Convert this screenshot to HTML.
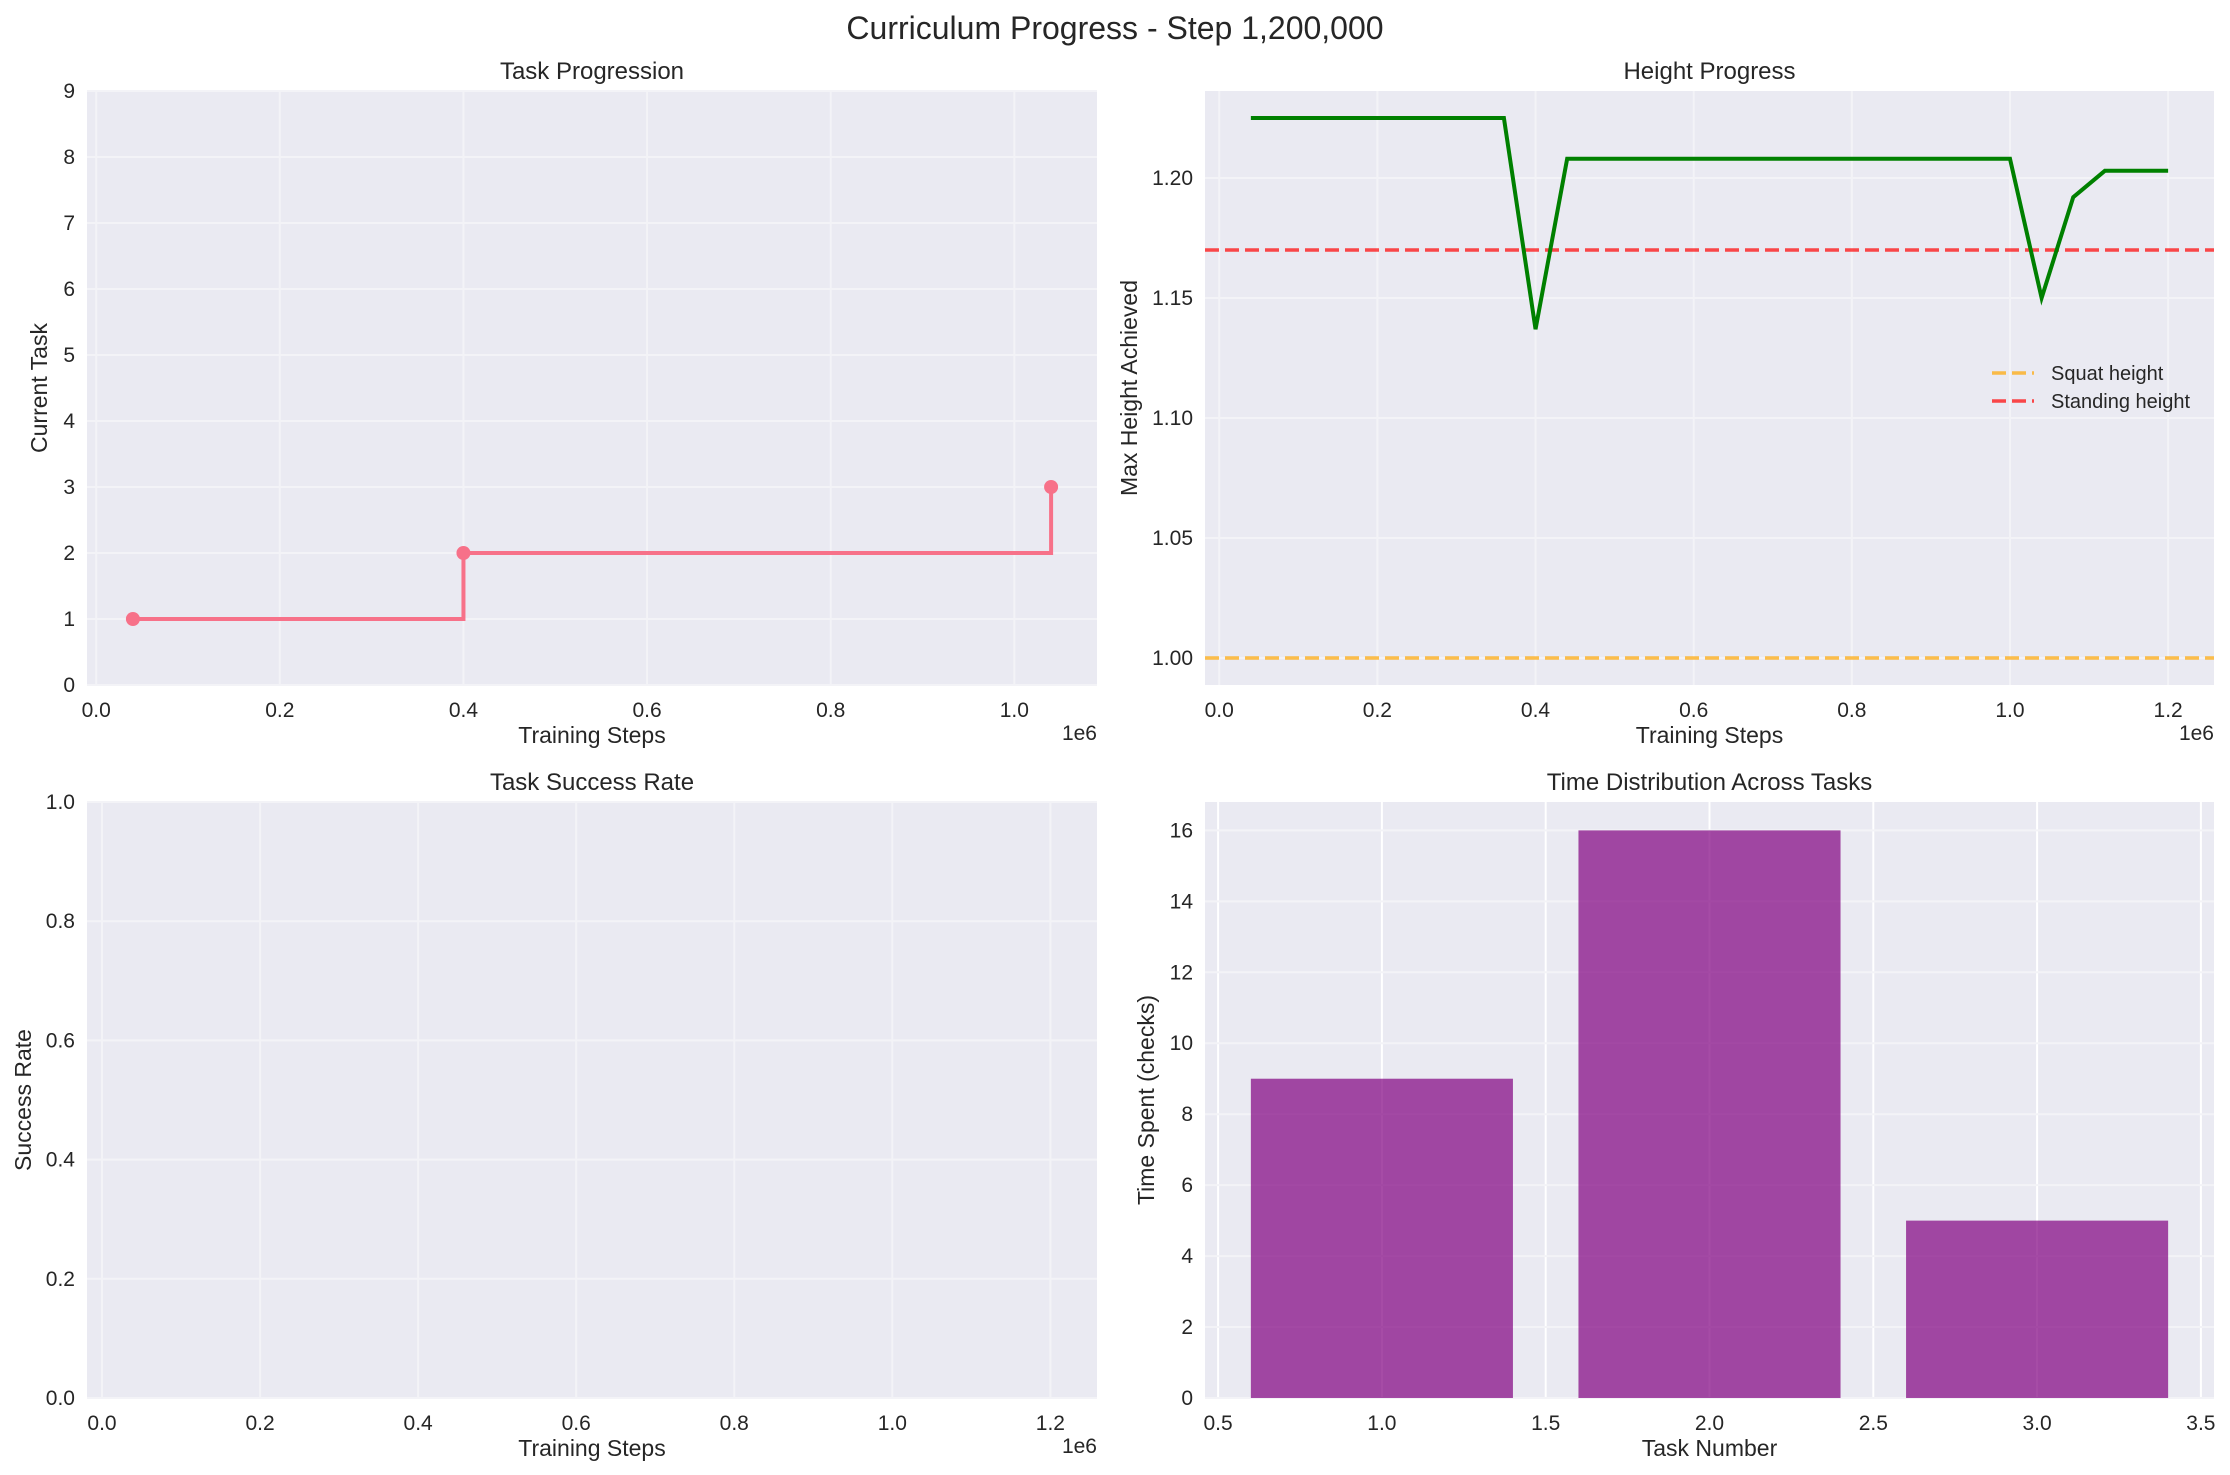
<!DOCTYPE html>
<html><head><meta charset="utf-8">
<style>
html,body{margin:0;padding:0;background:#fff;}
svg{display:block;font-family:"Liberation Sans",Arial,sans-serif;}
</style></head>
<body>
<svg id="fig" width="2230" height="1475" viewBox="0 0 2230 1475">
<rect width="2230" height="1475" fill="#ffffff"/>
<text x="1115" y="39" font-size="32" text-anchor="middle" fill="#262626">Curriculum Progress - Step 1,200,000</text>
</svg>
<script>
const taskSteps=[40000,400000,1040000];
const taskValues=[1,2,3];
const heightSteps=[40000,80000,120000,160000,200000,240000,280000,320000,360000,400000,440000,480000,520000,560000,600000,640000,680000,720000,760000,800000,840000,880000,920000,960000,1000000,1040000,1080000,1120000,1160000,1200000];
const heightValues=[1.225,1.225,1.225,1.225,1.225,1.225,1.225,1.225,1.225,1.137,1.208,1.208,1.208,1.208,1.208,1.208,1.208,1.208,1.208,1.208,1.208,1.208,1.208,1.208,1.208,1.150,1.192,1.203,1.203,1.203];
const squatHeight=1.0;
const standingHeight=1.17;
const barTasks=[1,2,3];
const barValues=[9,16,5];
const stepTicks=[0,0.2,0.4,0.6,0.8,1.0,1.2];
const stepTickLabels=["0.0","0.2","0.4","0.6","0.8","1.0","1.2"];
const taskTicks=[0,1,2,3,4,5,6,7,8,9];
const heightTicks=[1.00,1.05,1.10,1.15,1.20];
const heightTickLabels=["1.00","1.05","1.10","1.15","1.20"];
const rateTicks=[0,0.2,0.4,0.6,0.8,1.0];
const rateTickLabels=["0.0","0.2","0.4","0.6","0.8","1.0"];
const timeTicks=[0,2,4,6,8,10,12,14,16];
const taskNumTicks=[0.5,1.0,1.5,2.0,2.5,3.0,3.5];
const taskNumTickLabels=["0.5","1.0","1.5","2.0","2.5","3.0","3.5"];

const NS="http://www.w3.org/2000/svg";
const svg=document.getElementById('fig');
function mk(tag,attrs,parent){const e=document.createElementNS(NS,tag);for(const k in attrs)e.setAttribute(k,attrs[k]);(parent||svg).appendChild(e);return e;}
function scale(d0,d1,p0,p1){return v=>p0+(v-d0)/(d1-d0)*(p1-p0);}

function panel(o){
  const g=mk('g',{});
  
  
  const bg=mk('rect',{x:o.x0,y:o.y0,width:o.x1-o.x0,height:o.y1-o.y0,fill:'#eaeaf2'},g);
  
  
  const sx=scale(o.xd[0],o.xd[1],o.x0,o.x1), sy=scale(o.yd[0],o.yd[1],o.y1,o.y0);
  o.xt.forEach((t,i)=>{
    const X=sx(t);
    const gl=mk('line',{x1:X,x2:X,y1:o.y0,y2:o.y1,stroke:o.vgrid||'#f3f3f7','stroke-width':2},g);
    
    
    const tl=mk('text',{x:X,y:o.y1+32,'font-size':21,'text-anchor':'middle',fill:'#262626'},g);
    
    
    tl.textContent=o.xl[i];
  });
  o.yt.forEach((t,i)=>{
    const Y=sy(t);
    const gl=mk('line',{x1:o.x0,x2:o.x1,y1:Y,y2:Y,stroke:'#f3f3f7','stroke-width':2},g);
    
    
    const tl=mk('text',{x:o.x0-12,y:Y+7,'font-size':21,'text-anchor':'end',fill:'#262626'},g);
    
    
    tl.textContent=o.yl[i];
  });
  const cx=(o.x0+o.x1)/2;
  const ti=mk('text',{x:cx,y:o.y0-12,'font-size':24,'text-anchor':'middle',fill:'#262626'},g);
  
  
  ti.textContent=o.title;
  const xa=mk('text',{x:cx,y:o.y1+58,'font-size':23,'text-anchor':'middle',fill:'#262626'},g);
  
  
  xa.textContent=o.xlabel;
  const cy=(o.y0+o.y1)/2;
  const ya=mk('text',{x:o.ylx,y:cy,'font-size':23,'text-anchor':'middle',fill:'#262626',transform:`rotate(-90 ${o.ylx} ${cy})`,dy:8},g);
  
  
  ya.textContent=o.ylabel;
  if(o.offset){
    const of=mk('text',{x:o.x1,y:o.y1+55,'font-size':21,'text-anchor':'end',fill:'#262626'},g);
    
    
    of.textContent='1e6';
  }
  return {g,sx,sy};
}

// Panel 1
{
  const p=panel({name:'task-progression-panel',x0:87,x1:1097,y0:91,y1:685,xd:[-0.01,1.09],yd:[0,9],
    xt:[0,0.2,0.4,0.6,0.8,1.0],xl:stepTickLabels.slice(0,6),yt:taskTicks,yl:taskTicks.map(String),
    title:'Task Progression',xlabel:'Training Steps',ylabel:'Current Task',ylx:39,offset:true});
  let d='';
  taskSteps.forEach((s,i)=>{
    const X=p.sx(s/1e6),Y=p.sy(taskValues[i]);
    if(i===0)d+=`M${X},${Y}`;else{d+=`H${X}V${Y}`;}
  });
  const ln=mk('path',{d,fill:'none',stroke:'#f77189','stroke-width':4},p.g);
  
  
  taskSteps.forEach((s,i)=>{
    const c=mk('circle',{cx:p.sx(s/1e6),cy:p.sy(taskValues[i]),r:7,fill:'#f77189'},p.g);
    
    
  });
}
// Panel 2
{
  const p=panel({name:'height-progress-panel',x0:1205,x1:2214,y0:91,y1:685,xd:[-0.018,1.258],yd:[0.98875,1.23625],
    xt:stepTicks,xl:stepTickLabels,yt:heightTicks,yl:heightTickLabels,
    title:'Height Progress',xlabel:'Training Steps',ylabel:'Max Height Achieved',ylx:1129,offset:true});
  const sq=mk('line',{x1:1205,x2:2214,y1:p.sy(squatHeight),y2:p.sy(squatHeight),stroke:'#ffa500','stroke-opacity':0.7,'stroke-width':3.5,'stroke-dasharray':'14 6'},p.g);
  
  
  const st=mk('line',{x1:1205,x2:2214,y1:p.sy(standingHeight),y2:p.sy(standingHeight),stroke:'#ff0000','stroke-opacity':0.7,'stroke-width':3.5,'stroke-dasharray':'14 6'},p.g);
  
  
  const pts=heightSteps.map((s,i)=>`${p.sx(s/1e6)},${p.sy(heightValues[i])}`).join(' ');
  const hl=mk('polyline',{points:pts,fill:'none',stroke:'#008000','stroke-width':4,'stroke-linejoin':'miter'},p.g);
  
  
  const lg=mk('g',{},p.g);
  
  
  [['Squat height','#ffa500',373],['Standing height','#ff0000',401]].forEach(([t,c,y])=>{
    const l=mk('line',{x1:1992,x2:2034,y1:y,y2:y,stroke:c,'stroke-opacity':0.7,'stroke-width':3.5,'stroke-dasharray':'14 6'},lg);
    
    
    const tx=mk('text',{x:2051,y:y+7,'font-size':20,fill:'#262626'},lg);
    
    
    tx.textContent=t;
  });
}
// Panel 3
{
  panel({name:'task-success-rate-panel',x0:87,x1:1097,y0:802,y1:1398,xd:[-0.019,1.259],yd:[0,1],
    xt:stepTicks,xl:stepTickLabels,yt:rateTicks,yl:rateTickLabels,
    title:'Task Success Rate',xlabel:'Training Steps',ylabel:'Success Rate',ylx:23,offset:true});
}
// Panel 4
{
  const p=panel({name:'time-distribution-panel',x0:1205,x1:2214,y0:802,y1:1398,xd:[0.46,3.54],yd:[0,16.8],
    xt:taskNumTicks,xl:taskNumTickLabels,yt:timeTicks,yl:timeTicks.map(String),vgrid:'#ffffff',
    title:'Time Distribution Across Tasks',xlabel:'Task Number',ylabel:'Time Spent (checks)',ylx:1146,offset:false});
  barTasks.forEach((t,i)=>{
    const xl=p.sx(t-0.4),xr=p.sx(t+0.4),yt=p.sy(barValues[i]),yb=p.sy(0);
    const b=mk('rect',{x:xl,y:yt,width:xr-xl,height:yb-yt,fill:'#800080','fill-opacity':0.7},p.g);
    
    
  });
}
</script>
</body></html>
